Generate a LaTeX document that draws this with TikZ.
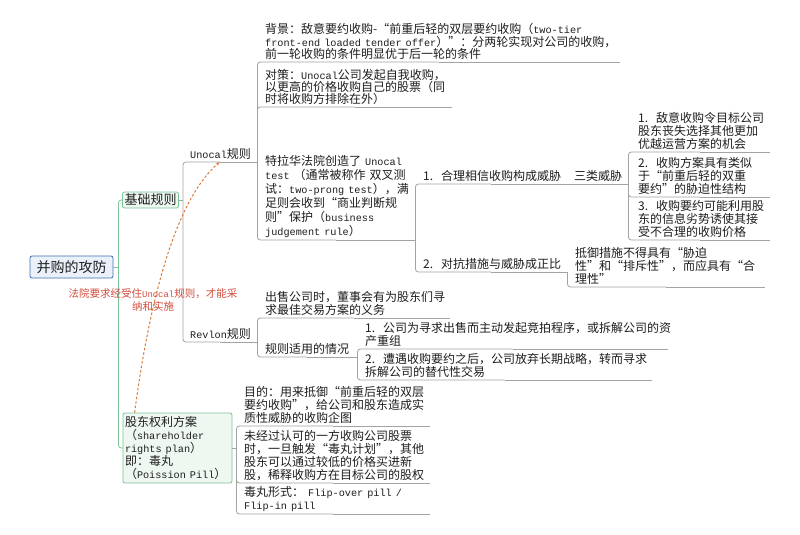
\documentclass[tikz,border=0pt]{standalone}
\usepackage{fontspec}
\setmainfont{Noto Sans CJK SC}
\newfontfamily\latfont{Liberation Mono}[Scale=0.85]
\newcommand{\en}[1]{\mbox{\latfont #1}}
\usetikzlibrary{arrows.meta}
\definecolor{ink}{HTML}{1E1E1E}
\definecolor{linegray}{HTML}{A3A3A3}
\definecolor{linegreen}{HTML}{7CC49A}
\definecolor{greenfill}{HTML}{EEF8F1}
\definecolor{rootblue}{HTML}{3E6FAE}
\definecolor{rootfill}{HTML}{EAF1FB}
\definecolor{noteorange}{HTML}{D9793A}
\definecolor{notered}{HTML}{D24B3C}
\tikzset{
    topic/.style={anchor=south west, align=left, inner xsep=8pt, inner ysep=2pt,
        text width=#1, font=\fontsize{12}{13}\selectfont, text=ink},
    greenbox/.style={draw=linegreen, fill=greenfill, line width=0.8pt, rounded corners=2pt,
        align=left, text=ink},
    link/.style={draw=linegray, line width=0.8pt, rounded corners=3pt},
    glink/.style={draw=linegreen, line width=0.8pt, rounded corners=3pt}
}
\begin{document}
\begin{tikzpicture}[x=1pt, y=-1pt]
        \useasboundingbox[fill=white] (0,0) rectangle (800,535);
        % root and first level
        \node[draw=rootblue, fill=rootfill, line width=0.8pt, rounded corners=2pt,
            minimum width=83pt, minimum height=22pt, inner sep=0pt,
            font=\fontsize{14}{14}\selectfont, text=ink] (root) at (71.5,267) {并购的攻防};
        \node[greenbox, inner xsep=2pt, inner ysep=1pt, minimum width=55pt, minimum height=16pt,
            font=\fontsize{13}{13}\selectfont] (basic) at (150.5,200) {基础规则};
        \node[greenbox, inner sep=2pt, text width=105pt, minimum height=70pt,
            font=\fontsize{12}{13}\selectfont] (poison) at (177.5,448)
            {股东权利方案\\（\en{shareholder}\\\en{rights plan}）\\即：毒丸\\（\en{Poission Pill}）};
        % Unocal / Revlon
        \node[topic=59pt] (unocal) at (182,162) {\en{Unocal}规则};
        \node[topic=59pt] (revlon) at (182,342) {\en{Revlon}规则};
        \node[topic=347pt, font=\fontsize{12}{12.5}\selectfont] (background) at (257,62)
            {背景：敌意要约收购-“前重后轻的双层要约收购（\en{two-tier}\\\en{front-end loaded tender offer}）”：分两轮实现对公司的收购，\\前一轮收购的条件明显优于后一轮的条件};
        \node[topic=179pt, font=\fontsize{12}{12}\selectfont] (plan) at (257,107)
            {对策：\en{Unocal}公司发起自我收购，\\以更高的价格收购自己的股票（同\\时将收购方排除在外）};
        \node[topic=142pt, font=\fontsize{12}{14}\selectfont] (delaware) at (257,240)
            {特拉华法院创造了~\en{Unocal}\\\en{test}~（通常被称作~双叉测\\试：\en{two-prong test}），满\\足则会收到“商业判断规\\则”保护（\en{business}\\\en{judgement rule}）};
        \node[topic=136pt] (reason) at (415,184) {1.~~合理相信收购构成威胁};
        \node[topic=47pt, inner xsep=7pt] (threat) at (567,184) {三类威胁};
        \node[topic=124pt] (threat1) at (630,152) {1.~~敌意收购令目标公司\\股东丧失选择其他更加\\优越运营方案的机会};
        \node[topic=124pt] (threat2) at (630,197) {2.~~收购方案具有类似\\于“前重后轻的双重\\要约”的胁迫性结构};
        \node[topic=124pt] (threat3) at (630,240) {3.~~收购要约可能利用股\\东的信息劣势诱使其接\\受不合理的收购价格};
        \node[topic=136pt] (proportion) at (415,272) {2.~~对抗措施与威胁成正比};
        \node[topic=182pt] (resist) at (567,287) {抵御措施不得具有“胁迫\\性”和“排斥性”，而应具有“合\\理性”};
        \node[topic=177pt] (sale) at (257,318) {出售公司时，董事会有为股东们寻\\求最佳交易方案的义务};
        \node[topic=84pt] (scope) at (257,357) {规则适用的情况};
        \node[topic=295pt] (scope1) at (357,349) {1.~~公司为寻求出售而主动发起竞拍程序，或拆解公司的资\\产重组};
        \node[topic=279pt] (scope2) at (357,380) {2.~~遭遇收购要约之后，公司放弃长期战略，转而寻求\\拆解公司的替代性交易};
        % poison pill
        \node[topic=178pt] (aim) at (236,426) {目的：用来抵御“前重后轻的双层\\要约收购”，给公司和股东造成实\\质性威胁的收购企图};
        \node[topic=178pt] (trigger) at (236,483) {未经过认可的一方收购公司股票\\时，一旦触发“毒丸计划”，其他\\股东可以通过较低的价格买进新\\股，稀释收购方在目标公司的股权};
        \node[topic=178pt] (forms) at (236,514) {毒丸形式：~\en{Flip-over pill /}\\\en{Flip-in pill}};
        % connectors
        \coordinate (roothub) at ([xshift=5pt]root.east);
        \coordinate (basichub) at ([xshift=4pt]basic.east);
        \coordinate (poisonhub) at ([xshift=4pt]poison.east);
        \draw[glink] (root.east) -- (roothub);
        \draw[glink] (roothub) |- (basic.west);
        \draw[glink] (roothub) |- (poison.west);
        \draw[link] (basic.east) -- (basichub);
        \draw[link] (basichub) |- (unocal.south);
        \draw[link] (basichub) |- (revlon.south);
        \draw[link] (unocal.south east) |- (background.south);
        \draw[link] (unocal.south east) |- (plan.south);
        \draw[link] (unocal.south east) |- (delaware.south);
        \draw[link] (delaware.south east) |- (reason.south);
        \draw[link] (delaware.south east) |- (proportion.south);
        \draw[link] (reason.south east) -- (threat.south);
        \draw[link] (threat.south east) |- (threat1.south);
        \draw[link] (threat.south east) |- (threat2.south);
        \draw[link] (threat.south east) |- (threat3.south);
        \draw[link] (proportion.south east) |- (resist.south);
        \draw[link] (revlon.south east) |- (sale.south);
        \draw[link] (revlon.south east) |- (scope.south);
        \draw[link] (scope.south east) |- (scope1.south);
        \draw[link] (scope.south east) |- (scope2.south);
        \draw[link] (poison.east) -- (poisonhub);
        \draw[link] (poisonhub) |- (aim.south);
        \draw[link] (poisonhub) |- (trigger.south);
        \draw[link] (poisonhub) |- (forms.south);
        \foreach \n in {unocal,revlon,background,plan,delaware,reason,threat,threat1,threat2,threat3,
            proportion,resist,sale,scope,scope1,scope2,aim,trigger,forms}
            \draw[link] (\n.south) -- (\n.south east);
        % court note
        \draw[noteorange, line width=1pt, dash pattern=on 2.5pt off 2pt, -{Stealth[length=4pt,width=3pt]}]
            ([xshift=12pt]poison.north west) .. controls +(15,-113) and +(-44,38) .. (unocal.south);
        \node[align=center, text=notered, font=\fontsize{10.5}{12.5}\selectfont] (courtnote) at (153,300)
            {法院要求经受住\en{Unocal}规则，才能采\\纳和实施};
\end{tikzpicture}
\end{document}
